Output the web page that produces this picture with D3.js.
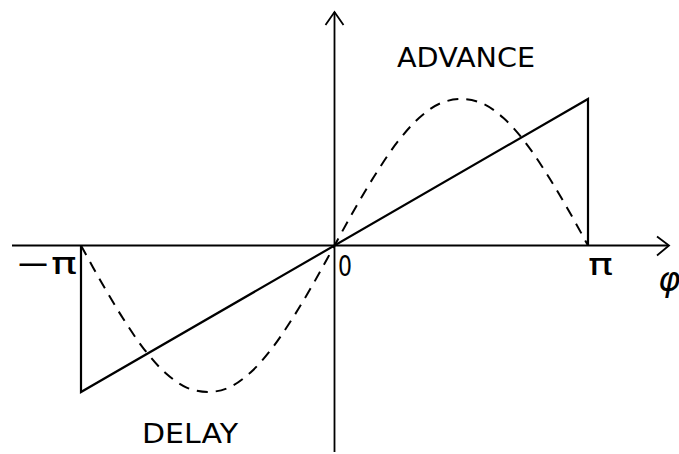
<!DOCTYPE html>
<html><head><meta charset="utf-8">
<script src="https://cdn.jsdelivr.net/npm/d3@7"></script>
<style>body{margin:0;background:#fff}svg{display:block}</style>
</head><body>
<script>
// phase samples in units of pi
const phaseK = [-1,-11/12,-10/12,-9/12,-8/12,-7/12,-6/12,-5/12,-4/12,-3/12,-2/12,-1/12,0,1/12,2/12,3/12,4/12,5/12,6/12,7/12,8/12,9/12,10/12,11/12,1];
// dashed curve values (units of pi)
const dashedVals = [0,-0.26,-0.5,-0.71,-0.87,-0.97,-1.0,-0.97,-0.87,-0.71,-0.5,-0.26,0,0.26,0.5,0.71,0.87,0.97,1.0,0.97,0.87,0.71,0.5,0.26,0];
// solid sawtooth: [phase, value] in units of pi
const solidPts = [[-1,0],[-1,-1],[1,1],[1,0]];
const tickLabels = ["\u2212\u03c0","0","\u03c0"];
const axisLabel = "\u03c6";
const regionLabels = ["ADVANCE","DELAY"];

const W=679,H=454;
const svg=d3.select("body").append("svg").attr("width",W).attr("height",H);
const x=d3.scaleLinear().domain([-Math.PI,Math.PI]).range([81,588]);
const y=d3.scaleLinear().domain([-Math.PI,Math.PI]).range([392,99]);

// axes
svg.append("line").attr("x1",12).attr("x2",668).attr("y1",y(0)).attr("y2",y(0)).attr("stroke","#000").attr("stroke-width",1.8);
svg.append("line").attr("x1",x(0)).attr("x2",x(0)).attr("y1",12).attr("y2",452).attr("stroke","#000").attr("stroke-width",1.8);
// arrows
svg.append("path").attr("d",`M657,${y(0)-9} L669,${y(0)} L657,${y(0)+10}`).attr("fill","none").attr("stroke","#000").attr("stroke-width",1.8);
svg.append("path").attr("d",`M${x(0)-9},25 L${x(0)},12 L${x(0)+9},25`).attr("fill","none").attr("stroke","#000").attr("stroke-width",1.8);

// solid sawtooth
svg.append("path").datum(solidPts)
  .attr("d",d3.line().x(d=>x(d[0]*Math.PI)).y(d=>y(d[1]*Math.PI)))
  .attr("fill","none").attr("stroke","#000").attr("stroke-width",2.2);

// dashed curve
const dd=phaseK.map((k,i)=>[k*Math.PI,dashedVals[i]*Math.PI]);
svg.append("path").datum(dd)
  .attr("d",d3.line().x(d=>x(d[0])).y(d=>y(d[1])).curve(d3.curveCatmullRom))
  .attr("fill","none").attr("stroke","#000").attr("stroke-width",2).attr("stroke-dasharray","11,8");

const font="'DejaVu Sans', sans-serif";
// tick labels
svg.append("text").attr("x",15).attr("y",274).attr("font-family",font).attr("font-size",30).text(tickLabels[0]).attr("textLength",62).attr("lengthAdjust","spacingAndGlyphs");
svg.append("text").attr("x",338).attr("y",276).attr("font-family",font).attr("font-size",28).text(tickLabels[1]).attr("textLength",14).attr("lengthAdjust","spacingAndGlyphs");
svg.append("text").attr("x",588).attr("y",275).attr("font-family",font).attr("font-size",30).text(tickLabels[2]).attr("textLength",25).attr("lengthAdjust","spacingAndGlyphs");
svg.append("text").attr("x",658).attr("y",291).attr("font-family",font).attr("font-size",34).attr("font-style","italic").text(axisLabel);

svg.append("text").attr("x",397).attr("y",67).attr("font-family",font).attr("font-size",27).text(regionLabels[0]).attr("textLength",138).attr("lengthAdjust","spacingAndGlyphs");
svg.append("text").attr("x",142).attr("y",443).attr("font-family",font).attr("font-size",27).text(regionLabels[1]).attr("textLength",96).attr("lengthAdjust","spacingAndGlyphs");
</script>
</body></html>
